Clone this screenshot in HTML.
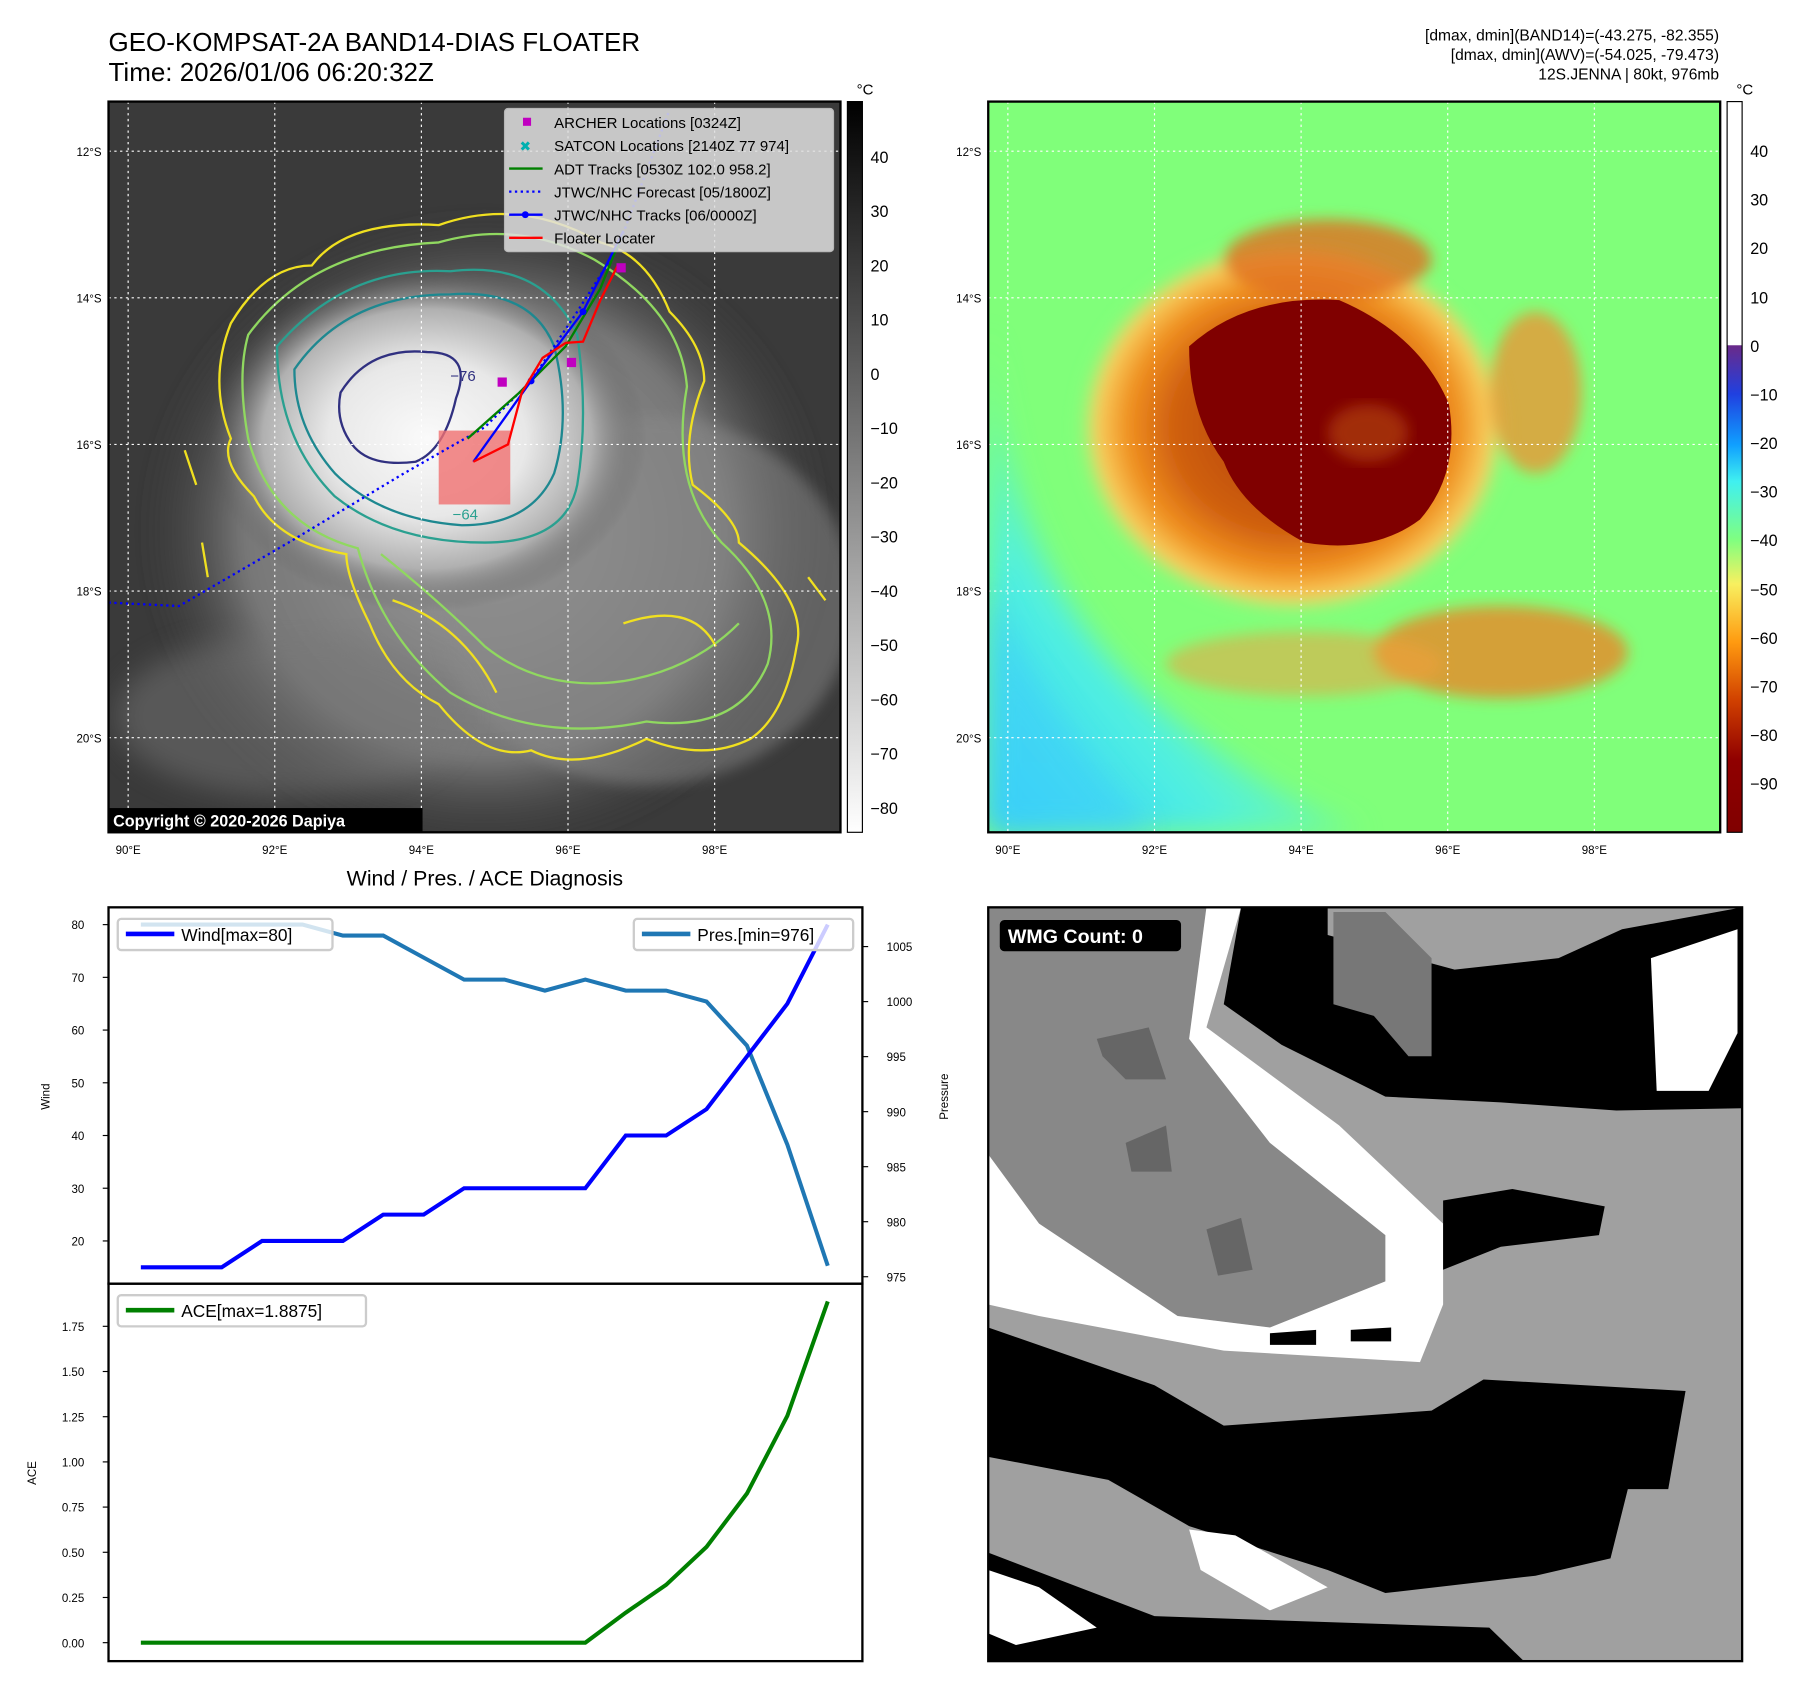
<!DOCTYPE html>
<html><head><meta charset="utf-8"><style>
html,body{margin:0;padding:0;background:#fff;}
svg{display:block;font-family:"Liberation Sans","DejaVu Sans",sans-serif;}
</style></head><body>
<svg id="fig" width="1801" height="1690" viewBox="0 0 1560 1464" preserveAspectRatio="none" xmlns="http://www.w3.org/2000/svg">
<defs>
<radialGradient id="irblob" cx="0.5" cy="0.5" r="0.5">
<stop offset="0" stop-color="#fafafa"/><stop offset="0.45" stop-color="#e8e8e8"/><stop offset="0.75" stop-color="#b0b0b0"/><stop offset="1" stop-color="#555" stop-opacity="0"/></radialGradient>
<radialGradient id="irouter" cx="0.5" cy="0.5" r="0.5">
<stop offset="0" stop-color="#9a9a9a"/><stop offset="0.7" stop-color="#777"/><stop offset="1" stop-color="#3c3c3c" stop-opacity="0"/></radialGradient>
<linearGradient id="cb1" x1="0" y1="0" x2="0" y2="1"><stop offset="0" stop-color="#000"/><stop offset="1" stop-color="#fff"/></linearGradient>
<linearGradient id="cb2" x1="0" y1="0" x2="0" y2="1">
<stop offset="0" stop-color="#fff"/><stop offset="0.333" stop-color="#fff"/><stop offset="0.334" stop-color="#6a2a8a"/>
<stop offset="0.40" stop-color="#2040e0"/><stop offset="0.47" stop-color="#10a0ff"/><stop offset="0.52" stop-color="#40f0f0"/>
<stop offset="0.60" stop-color="#80ff80"/><stop offset="0.66" stop-color="#f8f060"/><stop offset="0.74" stop-color="#ff9a10"/>
<stop offset="0.82" stop-color="#d04000"/><stop offset="0.90" stop-color="#900000"/><stop offset="1" stop-color="#800000"/></linearGradient>
<radialGradient id="ring" cx="0.5" cy="0.5" r="0.5">
<stop offset="0" stop-color="#b04000"/><stop offset="0.55" stop-color="#d06010"/><stop offset="0.75" stop-color="#f09020"/><stop offset="0.9" stop-color="#f8d060"/><stop offset="1" stop-color="#80ff80" stop-opacity="0"/></radialGradient>
<linearGradient id="cyanfade" x1="0" y1="1" x2="0.7" y2="0.2"><stop offset="0" stop-color="#30c8ff"/><stop offset="0.4" stop-color="#50f0e0"/><stop offset="1" stop-color="#80ff80" stop-opacity="0"/></linearGradient>
<filter id="blur6"><feGaussianBlur stdDeviation="6"/></filter>
<filter id="blur12"><feGaussianBlur stdDeviation="12"/></filter>
<clipPath id="clipL"><rect x="94" y="88" width="634" height="633"/></clipPath>
<clipPath id="clipR"><rect x="856" y="88" width="634" height="633"/></clipPath>
<clipPath id="clipW"><rect x="856" y="786" width="653" height="653"/></clipPath>
</defs>

<text x="94" y="44" font-size="22.5">GEO-KOMPSAT-2A BAND14-DIAS FLOATER</text>
<text x="94" y="70" font-size="22.5">Time: 2026/01/06 06:20:32Z</text>
<g font-size="13.5" text-anchor="end">
<text x="1489" y="35">[dmax, dmin](BAND14)=(-43.275, -82.355)</text>
<text x="1489" y="52">[dmax, dmin](AWV)=(-54.025, -79.473)</text>
<text x="1489" y="69">12S.JENNA | 80kt, 976mb</text>
</g>

<g clip-path="url(#clipL)">
<rect x="94" y="88" width="634" height="633" fill="#3a3a3a"/>
<ellipse cx="420" cy="460" rx="300" ry="280" fill="url(#irouter)" filter="url(#blur6)"/>
<ellipse cx="560" cy="520" rx="180" ry="160" fill="#8a8a8a" opacity="0.5" filter="url(#blur6)"/>
<ellipse cx="250" cy="620" rx="150" ry="70" fill="#777" opacity="0.5" filter="url(#blur12)"/>
<ellipse cx="370" cy="380" rx="190" ry="150" fill="url(#irblob)"/>
<g fill="none" stroke-width="2">
<path d="M200,280 Q230,230 270,230 Q300,190 380,195 Q450,170 520,210 Q560,220 580,270 Q610,300 610,330 Q590,380 600,420 Q640,450 640,470 Q700,520 690,560 Q680,620 650,640 Q610,660 560,640 Q500,670 460,650 Q420,660 380,610 Q340,590 320,540 Q300,500 300,480 Q240,470 220,430 Q190,400 200,380 Q180,330 200,280Z" stroke="#f0e020"/>
<path d="M215,290 Q270,215 380,210 Q450,190 515,225 Q590,270 595,335 Q580,420 625,470 Q680,520 665,575 Q640,635 560,625 Q465,645 390,600 Q330,550 310,475 Q235,455 215,380 Q205,325 215,290Z" stroke="#90d860"/>
<path d="M330,480 Q380,520 420,560 Q470,600 540,590 Q600,580 640,540" stroke="#90d860"/>
<path d="M340,520 Q400,540 430,600 M540,540 Q600,520 620,560" stroke="#f0e020"/>
<path d="M240,300 Q300,230 390,235 Q470,225 500,290 Q510,360 500,420 Q490,470 420,470 Q340,470 290,430 Q240,380 240,300Z" stroke="#2aa090"/>
<path d="M255,320 Q300,255 390,255 Q460,250 480,300 Q495,360 480,410 Q460,455 400,455 Q330,450 290,410 Q255,370 255,320Z" stroke="#1e8890"/>
<path d="M295,340 Q320,300 370,305 Q410,305 395,345 Q385,390 360,400 Q320,405 305,385 Q290,365 295,340Z" stroke="#303080"/>
<path d="M160,390 L170,420 M175,470 L180,500 M700,500 L715,520" stroke="#f0e020"/>
</g>
<g stroke="#fff" stroke-dasharray="2,3" stroke-width="1">
<line x1="111" y1="88" x2="111" y2="721"/><line x1="238" y1="88" x2="238" y2="721"/><line x1="365" y1="88" x2="365" y2="721"/><line x1="492" y1="88" x2="492" y2="721"/><line x1="619" y1="88" x2="619" y2="721"/>
<line x1="94" y1="131" x2="728" y2="131"/><line x1="94" y1="258" x2="728" y2="258"/><line x1="94" y1="385" x2="728" y2="385"/><line x1="94" y1="512" x2="728" y2="512"/><line x1="94" y1="639" x2="728" y2="639"/>
</g>
<rect x="380" y="373" width="62" height="64" fill="#f07070" opacity="0.8"/>
<polyline points="94,522 155,525 250,470 350,410 420,370 460,330 500,270 535,215 580,95" fill="none" stroke="#0000ff" stroke-width="2" stroke-dasharray="2,3"/>
<polyline points="405,380 450,340 490,300 520,250 540,200" fill="none" stroke="#008000" stroke-width="2"/>
<polyline points="410,400 460,330 505,270 540,200" fill="none" stroke="#0000ff" stroke-width="2"/>
<circle cx="460" cy="330" r="3" fill="#00f"/><circle cx="505" cy="270" r="3" fill="#00f"/>
<polyline points="410,400 440,385 452,340 470,310 490,297 505,296 520,260 535,230" fill="none" stroke="#ff0000" stroke-width="2"/>
<rect x="431" y="327" width="8" height="8" fill="#c000c0"/><rect x="491" y="310" width="8" height="8" fill="#c000c0"/><rect x="534" y="228" width="8" height="8" fill="#c000c0"/>
<text x="392" y="450" font-size="13" fill="#2aa090">−64</text>
<text x="390" y="330" font-size="13" fill="#303080">−76</text>
</g>
<rect x="94" y="88" width="634" height="633" fill="none" stroke="#000" stroke-width="2"/>
<g font-size="13">
<rect x="437" y="94" width="285" height="124" fill="#e0e0e0" opacity="0.85" rx="3" stroke="#ccc"/>
<rect x="453" y="102" width="7" height="7" fill="#c000c0"/><text x="480" y="111">ARCHER Locations [0324Z]</text>
<text x="450" y="131" fill="#00b0b0" font-size="12">✖</text><text x="480" y="131">SATCON Locations [2140Z 77 974]</text>
<line x1="441" y1="146" x2="470" y2="146" stroke="#008000" stroke-width="2"/><text x="480" y="151">ADT Tracks [0530Z 102.0 958.2]</text>
<line x1="441" y1="166" x2="470" y2="166" stroke="#0000ff" stroke-width="2" stroke-dasharray="2,3"/><text x="480" y="171">JTWC/NHC Forecast [05/1800Z]</text>
<line x1="441" y1="186" x2="470" y2="186" stroke="#0000ff" stroke-width="2"/><circle cx="455" cy="186" r="3" fill="#00f"/><text x="480" y="191">JTWC/NHC Tracks [06/0000Z]</text>
<line x1="441" y1="206" x2="470" y2="206" stroke="#ff0000" stroke-width="2"/><text x="480" y="211">Floater Locater</text>
</g>
<rect x="94" y="700" width="272" height="21" fill="#000"/>
<text x="98" y="716" font-size="14" font-weight="bold" fill="#fff">Copyright © 2020-2026 Dapiya</text>
<g font-size="14">
<rect x="734" y="88" width="13" height="633" fill="url(#cb1)" stroke="#000"/>
<text x="742" y="82" font-size="13">°C</text>
<text x="754" y="141">40</text><text x="754" y="188">30</text><text x="754" y="235">20</text><text x="754" y="282">10</text><text x="754" y="329">0</text>
<text x="754" y="376">−10</text><text x="754" y="423">−20</text><text x="754" y="470">−30</text><text x="754" y="517">−40</text><text x="754" y="564">−50</text><text x="754" y="611">−60</text><text x="754" y="658">−70</text><text x="754" y="705">−80</text>
</g>

<g clip-path="url(#clipR)">
<rect x="856" y="88" width="634" height="633" fill="#80ff7a"/>
<path d="M856,280 Q870,480 980,590 Q1080,680 1180,721 L856,721Z" fill="url(#cyanfade)" filter="url(#blur12)"/>
<path d="M856,500 Q900,620 1000,721 L856,721Z" fill="#40d0f8" opacity="0.6" filter="url(#blur12)"/>
<g filter="url(#blur6)">
<ellipse cx="1120" cy="370" rx="190" ry="165" fill="url(#ring)"/>
<ellipse cx="1150" cy="225" rx="90" ry="35" fill="#e07020" opacity="0.8"/>
<ellipse cx="1330" cy="340" rx="40" ry="70" fill="#f09030" opacity="0.75"/>
<ellipse cx="1300" cy="565" rx="110" ry="40" fill="#f08020" opacity="0.75"/>
<ellipse cx="1130" cy="575" rx="120" ry="28" fill="#f0a040" opacity="0.55"/>
</g>
<path d="M1030,300 Q1080,255 1160,260 Q1230,290 1255,350 Q1265,410 1230,450 Q1190,480 1130,470 Q1075,440 1060,400 Q1030,360 1030,300Z" fill="#800000"/>
<ellipse cx="1185" cy="375" rx="35" ry="25" fill="#b04010" opacity="0.7" filter="url(#blur6)"/>
<g stroke="#fff" stroke-dasharray="2,3" stroke-width="1">
<line x1="873" y1="88" x2="873" y2="721"/><line x1="1000" y1="88" x2="1000" y2="721"/><line x1="1127" y1="88" x2="1127" y2="721"/><line x1="1254" y1="88" x2="1254" y2="721"/><line x1="1381" y1="88" x2="1381" y2="721"/>
<line x1="856" y1="131" x2="1490" y2="131"/><line x1="856" y1="258" x2="1490" y2="258"/><line x1="856" y1="385" x2="1490" y2="385"/><line x1="856" y1="512" x2="1490" y2="512"/><line x1="856" y1="639" x2="1490" y2="639"/>
</g>
</g>
<rect x="856" y="88" width="634" height="633" fill="none" stroke="#000" stroke-width="2"/>
<g font-size="14">
<rect x="1496" y="88" width="13" height="633" fill="url(#cb2)" stroke="#000"/>
<text x="1504" y="82" font-size="13">°C</text>
<text x="1516" y="136">40</text><text x="1516" y="178">30</text><text x="1516" y="220">20</text><text x="1516" y="263">10</text><text x="1516" y="305">0</text>
<text x="1516" y="347">−10</text><text x="1516" y="389">−20</text><text x="1516" y="431">−30</text><text x="1516" y="473">−40</text><text x="1516" y="516">−50</text><text x="1516" y="558">−60</text><text x="1516" y="600">−70</text><text x="1516" y="642">−80</text><text x="1516" y="684">−90</text>
</g>

<g font-size="10">
<g text-anchor="end"><text x="88" y="135">12°S</text><text x="88" y="262">14°S</text><text x="88" y="389">16°S</text><text x="88" y="516">18°S</text><text x="88" y="643">20°S</text>
<text x="850" y="135">12°S</text><text x="850" y="262">14°S</text><text x="850" y="389">16°S</text><text x="850" y="516">18°S</text><text x="850" y="643">20°S</text></g>
<g text-anchor="middle"><text x="111" y="740">90°E</text><text x="238" y="740">92°E</text><text x="365" y="740">94°E</text><text x="492" y="740">96°E</text><text x="619" y="740">98°E</text>
<text x="873" y="740">90°E</text><text x="1000" y="740">92°E</text><text x="1127" y="740">94°E</text><text x="1254" y="740">96°E</text><text x="1381" y="740">98°E</text></g>
</g>

<text x="420" y="767" font-size="18.5" text-anchor="middle">Wind / Pres. / ACE Diagnosis</text>
<g id="chart"></g>

<g clip-path="url(#clipW)">
<rect x="856" y="786" width="653" height="653" fill="#a0a0a0"/>
<polygon points="856,786 1045,786 1030,900 1100,990 1200,1070 1200,1110 1100,1150 1020,1140 900,1060 856,1000" fill="#888"/>
<polygon points="1045,786 1075,786 1045,890 1160,975 1250,1060 1250,1130 1230,1180 1060,1170 900,1140 856,1130 856,1000 900,1060 1020,1140 1100,1150 1200,1110 1200,1070 1100,990 1030,900" fill="#fff"/>
<polygon points="1075,786 1150,786 1150,810 1260,840 1350,830 1405,805 1509,786 1509,960 1400,962 1300,955 1200,950 1110,905 1060,870" fill="#000"/>
<polygon points="1120,870 1130,840 1270,850 1350,860 1360,870 1300,900 1200,920 1140,900" fill="#000"/>
<polygon points="1430,830 1505,805 1505,895 1480,945 1435,945" fill="#fff"/>
<polygon points="1155,790 1200,790 1240,830 1240,915 1220,915 1190,880 1155,870" fill="#777"/>
<polygon points="950,900 995,890 1010,935 975,935 955,915" fill="#666"/>
<polygon points="975,990 1010,975 1015,1015 980,1015" fill="#666"/>
<polygon points="1045,1065 1075,1055 1085,1100 1055,1105" fill="#666"/>
<polygon points="856,1150 1000,1200 1060,1235 1240,1222 1285,1195 1460,1205 1445,1290 1410,1290 1395,1350 1330,1365 1200,1380 1150,1360 1030,1322 960,1282 856,1262" fill="#000"/>
<polygon points="1250,1040 1310,1030 1390,1045 1385,1070 1300,1080 1250,1100" fill="#000"/>
<polygon points="856,1345 1000,1400 1290,1410 1320,1439 856,1439" fill="#000"/>
<polygon points="856,1360 900,1375 950,1410 880,1425 856,1415" fill="#fff"/>
<polygon points="1030,1325 1070,1330 1150,1375 1100,1395 1040,1360" fill="#fff"/>
<polygon points="1100,1155 1140,1152 1140,1165 1100,1165" fill="#000"/>
<polygon points="1170,1152 1205,1150 1205,1162 1170,1162" fill="#000"/>
</g>
<rect x="856" y="786" width="653" height="653" fill="none" stroke="#000" stroke-width="2"/>
<rect x="866" y="797" width="157" height="27" rx="4" fill="#000"/>
<text x="873" y="817" font-size="17" font-weight="bold" fill="#fff">WMG Count: 0</text>

<script>
const steps = [0,1,2,3,4,5,6,7,8,9,10,11,12,13,14,15,16,17];
const windValues = [15,15,15,20,20,20,25,25,30,30,30,30,40,40,45,55,65,80];
const presValues = [1007,1007,1007,1007,1007,1006,1006,1004,1002,1002,1001,1002,1001,1001,1000,996,987,976];
const aceValues = [0,0,0,0,0,0,0,0,0,0,0,0,0.166,0.32,0.53,0.825,1.255,1.8875];
const windTicks = [20,30,40,50,60,70,80];
const presTicks = [975,980,985,990,995,1000,1005];
const aceTicks = [0,0.25,0.5,0.75,1,1.25,1.5,1.75];

const NS='http://www.w3.org/2000/svg';
const chart=document.getElementById('chart');
const xOf = i => 122 + i*35;
const windY = v => 1075 - (v-20)*4.567;
const presY = p => 820 + (1005-p)*9.533;
const aceY = a => 1423 - a*156.6;
function mk(tag, attrs){const e=document.createElementNS(NS,tag);for(const k in attrs)e.setAttribute(k,attrs[k]);chart.appendChild(e);return e;}

let f1=mk('rect',{x:94,y:786,width:653,height:326,fill:'none',stroke:'#000','stroke-width':2});


let f2=mk('rect',{x:94,y:1112,width:653,height:327,fill:'none',stroke:'#000','stroke-width':2});



windTicks.forEach(t=>{
  const y=windY(t);
  const l=mk('line',{x1:89,x2:94,y1:y,y2:y,stroke:'#000'});
  
  
  const tx=mk('text',{x:73,y:y+4,'font-size':10,'text-anchor':'end'});tx.textContent=t;
  
  
});
presTicks.forEach(t=>{
  const y=presY(t);
  const l=mk('line',{x1:747,x2:752,y1:y,y2:y,stroke:'#000'});
  
  
  const tx=mk('text',{x:768,y:y+4,'font-size':10});tx.textContent=t;
  
  
});
aceTicks.forEach(t=>{
  const y=aceY(t);
  const l=mk('line',{x1:89,x2:94,y1:y,y2:y,stroke:'#000'});
  
  
  const tx=mk('text',{x:73,y:y+4,'font-size':10,'text-anchor':'end'});tx.textContent=t.toFixed(2);
  
  
});
let yl1=mk('text',{x:0,y:0,'font-size':10,'text-anchor':'middle',transform:'translate(43,950) rotate(-90)'});yl1.textContent='Wind';


let yl2=mk('text',{x:0,y:0,'font-size':10,'text-anchor':'middle',transform:'translate(821,950) rotate(-90)'});yl2.textContent='Pressure';


let yl3=mk('text',{x:0,y:0,'font-size':10,'text-anchor':'middle',transform:'translate(31,1276) rotate(-90)'});yl3.textContent='ACE';



const pres=mk('polyline',{points:steps.map(i=>xOf(i)+','+presY(presValues[i])).join(' '),fill:'none',stroke:'#1f77b4','stroke-width':3.5});


const wind=mk('polyline',{points:steps.map(i=>xOf(i)+','+windY(windValues[i])).join(' '),fill:'none',stroke:'#0000ff','stroke-width':3.5});


const ace=mk('polyline',{points:steps.map(i=>xOf(i)+','+aceY(aceValues[i])).join(' '),fill:'none',stroke:'#008000','stroke-width':3.5});



function legend(x,y,w,color,label,name){
  const r=mk('rect',{x:x,y:y,width:w,height:27,fill:'#fff','fill-opacity':0.8,stroke:'#ccc','stroke-width':2,rx:3});
  
  
  mk('line',{x1:x+7,x2:x+49,y1:y+13,y2:y+13,stroke:color,'stroke-width':4});
  const t=mk('text',{x:x+55,y:y+19,'font-size':15});t.textContent=label;
}
legend(102,796,186,'#0000ff','Wind[max=80]','wind-legend');
legend(549,796,190,'#1f77b4','Pres.[min=976]','pressure-legend');
legend(102,1122,215,'#008000','ACE[max=1.8875]','ace-legend');
</script>
</svg>
</body></html>
